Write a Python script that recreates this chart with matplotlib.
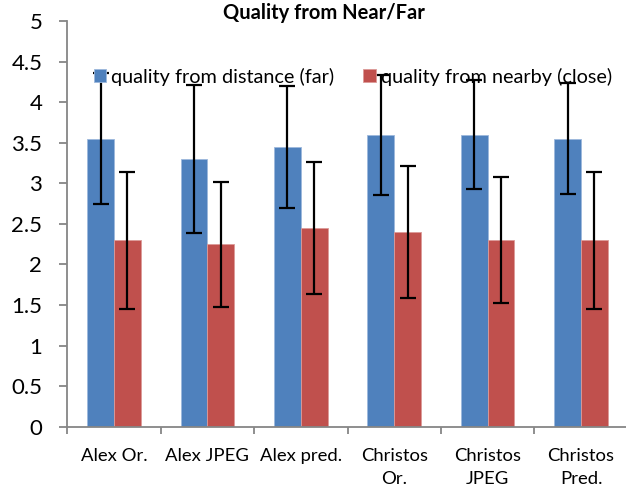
import matplotlib
matplotlib.use("Agg")
import matplotlib.pyplot as plt
import numpy as np

plt.rcParams['font.family'] = ['Lato', 'DejaVu Sans']

categories = ["Alex Or.", "Alex JPEG", "Alex pred.", "Christos\nOr.", "Christos\nJPEG", "Christos\nPred."]
far_mean = [3.55, 3.30, 3.45, 3.60, 3.60, 3.55]
far_err = [0.81, 0.91, 0.75, 0.74, 0.67, 0.68]
close_mean = [2.30, 2.25, 2.45, 2.40, 2.30, 2.30]
close_err = [0.845, 0.77, 0.81, 0.81, 0.78, 0.845]
series_labels = ["quality from distance (far)", "quality from nearby (close)"]
yticks = [0, 0.5, 1, 1.5, 2, 2.5, 3, 3.5, 4, 4.5, 5]
ytick_labels = ["0", "0.5", "1", "1.5", "2", "2.5", "3", "3.5", "4", "4.5", "5"]

blue = "#4F81BD"
red = "#C0504D"
axis_grey = "#868686"

W, H = 626, 493
fig = plt.figure(figsize=(W / 100, H / 100), dpi=100)
ax = fig.add_axes([67.3 / W, 66.3 / H, 560.4 / W, 405.7 / H])

x = np.arange(len(categories))
bw = 0.286
err_kw = dict(ecolor="black", elinewidth=1.6, capsize=6, capthick=1.6)
b1 = ax.bar(x - bw / 2, far_mean, bw, yerr=far_err, color=blue,
            edgecolor="#9db8dc", linewidth=0.6, error_kw=err_kw, label=series_labels[0])
b2 = ax.bar(x + bw / 2, close_mean, bw, yerr=close_err, color=red,
            edgecolor="#dc9a98", linewidth=0.6, error_kw=err_kw, label=series_labels[1])

ax.set_xlim(-0.5, len(categories) - 0.5)
ax.set_ylim(0, 5)
ax.set_yticks(yticks)
ax.set_yticklabels(ytick_labels, fontsize=16)
ax.set_xticks(x)
ax.set_xticklabels(categories, fontsize=13.3, linespacing=1.6, va="top")
ax.set_xticks(np.arange(len(categories) + 1) - 0.5, minor=True)
ax.tick_params(axis="x", which="major", length=0, pad=15)
ax.tick_params(axis="x", which="minor", length=5, width=1.3, color=axis_grey, direction="out")
ax.tick_params(axis="y", which="major", length=6, width=1.3, color=axis_grey, pad=12)

for s in ["top", "right"]:
    ax.spines[s].set_visible(False)
for s in ["left", "bottom"]:
    ax.spines[s].set_color(axis_grey)
    ax.spines[s].set_linewidth(1.3)

ax.legend(ncol=2, frameon=False, fontsize=14.3, loc="center left",
          bbox_to_anchor=(26.7 / 560.4, (426.7 - 76.5) / 405.7),
          handlelength=0.62, handleheight=0.62, handletextpad=0.25,
          columnspacing=1.46, borderaxespad=0, borderpad=0)

fig.text(324 / W, 1 - 13 / H, "Quality from Near/Far", ha="center", va="center",
         fontsize=14.5, fontweight="bold")

fig.savefig("out.png", dpi=100)
